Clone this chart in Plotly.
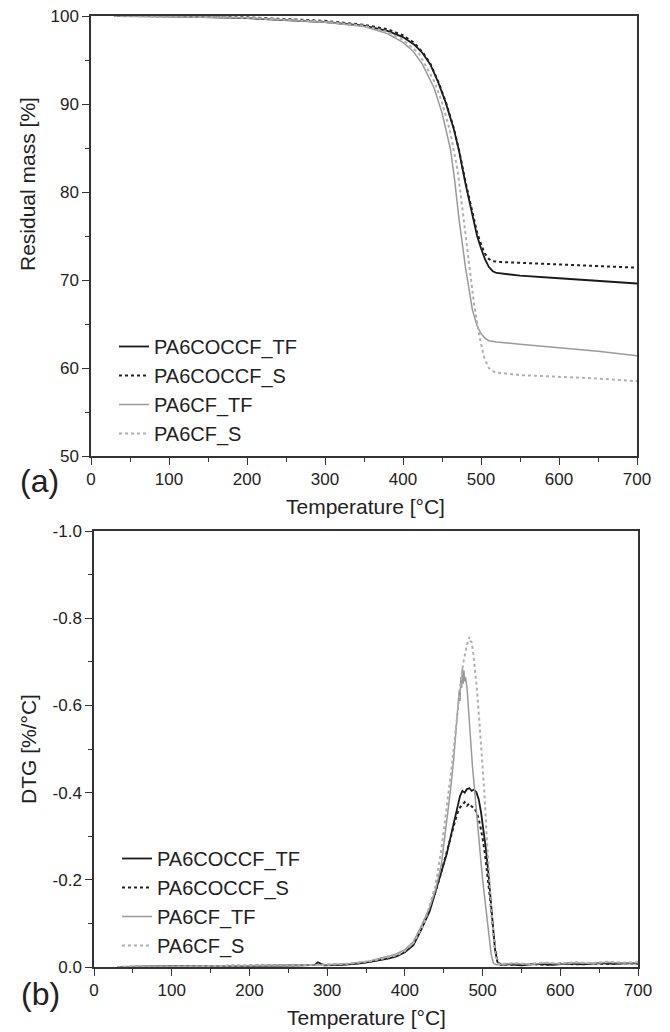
import plotly.graph_objects as go

# --- TGA (residual mass) ---
T_COCCF_TF = [30, 100, 200, 300, 350, 380, 400, 415, 425, 435, 445, 455, 465, 472, 480, 489, 495, 500, 505, 510, 515, 520, 530, 550, 600, 650, 700]
M_COCCF_TF = [100.0, 99.95, 99.75, 99.3, 98.9, 98.3, 97.6, 96.7, 95.8, 94.5, 92.5, 90.1, 87.2, 84.6, 81.0, 77.3, 75.0, 73.6, 72.4, 71.5, 71.0, 70.8, 70.7, 70.5, 70.2, 69.9, 69.6]

T_COCCF_S = [30, 100, 200, 300, 350, 380, 400, 415, 425, 435, 445, 455, 465, 472, 480, 489, 495, 500, 505, 510, 515, 525, 550, 600, 650, 700]
M_COCCF_S = [100.0, 99.98, 99.85, 99.45, 99.0, 98.5, 97.8, 96.9, 95.9, 94.6, 92.6, 90.2, 87.3, 84.7, 81.2, 77.5, 75.4, 74.1, 73.0, 72.4, 72.15, 72.05, 71.95, 71.8, 71.6, 71.4]

T_CF_TF = [30, 100, 200, 300, 350, 380, 400, 413, 425, 440, 450, 461, 466, 472, 480, 489, 495, 500, 505, 510, 520, 550, 600, 650, 700]
M_CF_TF = [100.0, 99.95, 99.8, 99.3, 98.8, 98.0, 97.0, 96.0, 94.5, 91.8, 89.0, 84.8, 81.5, 76.8, 71.5, 66.6, 64.8, 63.9, 63.4, 63.1, 62.95, 62.7, 62.3, 61.9, 61.4]

T_CF_S = [30, 100, 200, 300, 350, 380, 400, 420, 440, 450, 460, 470, 477, 484, 491, 498, 504, 510, 518, 550, 600, 650, 700]
M_CF_S = [100.0, 99.97, 99.8, 99.35, 98.9, 98.2, 97.3, 95.8, 92.6, 90.2, 87.0, 82.5, 77.5, 72.2, 67.3, 63.6, 61.2, 60.0, 59.5, 59.2, 59.0, 58.8, 58.5]

# --- DTG ---
TD_COCCF_TF = [30, 60, 100, 150, 200, 240, 270, 284, 288, 291, 296, 320, 340, 355, 368, 380, 390, 400, 411, 421, 432, 437, 445, 454, 461, 467, 471, 474, 477, 480, 483, 486, 489, 492, 495, 498, 501, 504, 507, 510, 513, 516, 519, 523, 535, 550, 570, 590, 610, 630, 650, 670, 690, 700]
D_COCCF_TF = [0.0, -0.001, -0.002, -0.002, -0.002, -0.003, -0.004, -0.005, -0.011, -0.008, -0.004, -0.005, -0.008, -0.012, -0.016, -0.02, -0.025, -0.034, -0.05, -0.085, -0.128, -0.158, -0.205, -0.26, -0.315, -0.365, -0.392, -0.404, -0.4, -0.408, -0.41, -0.404, -0.407, -0.401, -0.385, -0.355, -0.32, -0.275, -0.225, -0.165, -0.1, -0.04, -0.012, -0.005, -0.006, -0.004, -0.007, -0.005, -0.008, -0.006, -0.009, -0.007, -0.009, -0.008]

TD_COCCF_S = [30, 80, 130, 180, 230, 270, 300, 330, 355, 368, 380, 390, 400, 411, 421, 432, 440, 448, 455, 462, 467, 471, 474, 477, 480, 483, 486, 489, 492, 495, 498, 501, 504, 507, 510, 513, 516, 519, 523, 540, 560, 580, 600, 620, 640, 660, 680, 700]
D_COCCF_S = [0.0, -0.001, -0.002, -0.002, -0.003, -0.004, -0.005, -0.007, -0.012, -0.017, -0.021, -0.027, -0.037, -0.055, -0.09, -0.135, -0.175, -0.225, -0.27, -0.318, -0.35, -0.366, -0.372, -0.378, -0.37, -0.375, -0.368, -0.366, -0.355, -0.34, -0.315, -0.285, -0.245, -0.2, -0.15, -0.095, -0.045, -0.015, -0.006, -0.005, -0.007, -0.005, -0.008, -0.006, -0.008, -0.007, -0.009, -0.008]

TD_CF_TF = [30, 80, 130, 180, 230, 270, 300, 330, 355, 368, 380, 390, 400, 411, 421, 432, 440, 447, 454, 459, 463, 466, 468, 470, 471, 472, 473, 474, 475, 476, 477, 478, 480, 483, 487, 490, 493, 496, 499, 502, 505, 508, 511, 514, 518, 540, 560, 580, 600, 620, 640, 660, 680, 700]
D_CF_TF = [0.0, -0.002, -0.002, -0.003, -0.003, -0.004, -0.005, -0.008, -0.014, -0.02, -0.025, -0.031, -0.04, -0.058, -0.093, -0.137, -0.18, -0.235, -0.33, -0.41, -0.48, -0.54, -0.59, -0.635, -0.61, -0.665, -0.64, -0.685, -0.65, -0.68, -0.655, -0.665, -0.64, -0.56, -0.46, -0.4, -0.335, -0.275, -0.22, -0.17, -0.12, -0.07, -0.03, -0.008, -0.005, -0.008, -0.006, -0.009, -0.007, -0.01, -0.008, -0.011, -0.009, -0.01]

TD_CF_S = [30, 80, 130, 180, 230, 270, 300, 330, 355, 368, 380, 390, 400, 411, 425, 439, 447, 454, 460, 464.5, 468, 472, 475, 478, 480, 482, 483, 484, 486, 488, 490, 492.5, 496, 499, 502, 505, 508, 511, 514, 517, 521, 540, 560, 580, 600, 620, 640, 660, 680, 700]
D_CF_S = [0.0, -0.001, -0.002, -0.003, -0.003, -0.004, -0.005, -0.008, -0.013, -0.018, -0.022, -0.027, -0.037, -0.055, -0.1, -0.184, -0.27, -0.367, -0.455, -0.528, -0.59, -0.655, -0.696, -0.725, -0.74, -0.75, -0.757, -0.748, -0.745, -0.72, -0.69, -0.642, -0.56, -0.49, -0.41, -0.31, -0.22, -0.14, -0.074, -0.025, -0.007, -0.009, -0.007, -0.01, -0.008, -0.011, -0.009, -0.012, -0.01, -0.011]

NAMES = ["PA6COCCF_TF", "PA6COCCF_S", "PA6CF_TF", "PA6CF_S"]
DTG_TICKS = [-1.0, -0.8, -0.6, -0.4, -0.2, 0.0]
DTG_TICKTEXT = ["-1.0", "-0.8", "-0.6", "-0.4", "-0.2", "0.0"]

styles = [
    dict(color="#1a1a1a", width=1.8, dash="solid"),
    dict(color="#222222", width=2.0, dash="dot"),
    dict(color="#9a9a9a", width=1.5, dash="solid"),
    dict(color="#b0b0b0", width=2.0, dash="dot"),
]

W, H = 670, 1032
OFF = 8  # page body margin shifts the figure by this much


def px(x):
    return (x - OFF) / W


def py(y):
    return 1 - (y - OFF) / H


fig = go.Figure()

tga = [(T_COCCF_TF, M_COCCF_TF), (T_COCCF_S, M_COCCF_S), (T_CF_TF, M_CF_TF), (T_CF_S, M_CF_S)]
for name, (t, m), st in zip(NAMES, tga, styles):
    fig.add_trace(go.Scatter(x=t, y=m, mode="lines", name=name, line=st,
                             xaxis="x", yaxis="y", legend="legend"))

dtg = [(TD_COCCF_TF, D_COCCF_TF), (TD_COCCF_S, D_COCCF_S), (TD_CF_TF, D_CF_TF), (TD_CF_S, D_CF_S)]
for name, (t, d), st in zip(NAMES, dtg, styles):
    fig.add_trace(go.Scatter(x=t, y=d, mode="lines", name=name, line=st,
                             xaxis="x2", yaxis="y2", legend="legend2"))

axis_common = dict(showline=True, linecolor="#333333", linewidth=1.5, mirror=True,
                   ticks="outside", ticklen=7, tickwidth=1.3, tickcolor="#333333",
                   showgrid=False, zeroline=False, automargin=False,
                   ticklabeloverflow="allow",
                   tickfont=dict(family="Liberation Sans, Arial", size=17, color="#222222"))

fig.update_layout(
    template="none",
    width=W, height=H,
    margin=dict(l=0, r=0, t=0, b=0, pad=0),
    plot_bgcolor="white", paper_bgcolor="white",
    font=dict(family="Liberation Sans, Arial", color="#222222"),
    xaxis=dict(domain=[px(91), px(637)], range=[0, 700], dtick=100, tick0=0, anchor="y",
               minor=dict(dtick=50, tick0=0, ticks="outside", ticklen=4, tickcolor="#333333"),
               **axis_common),
    yaxis=dict(domain=[py(456), py(16)], range=[50, 100], dtick=10, tick0=50, anchor="x",
               minor=dict(dtick=5, tick0=50, ticks="outside", ticklen=4, tickcolor="#333333"),
               **axis_common),
    xaxis2=dict(domain=[px(94), px(638)], range=[0, 700], dtick=100, tick0=0, anchor="y2",
                minor=dict(dtick=50, tick0=0, ticks="outside", ticklen=4, tickcolor="#333333"),
                **axis_common),
    yaxis2=dict(domain=[py(967), py(531)], range=[0, -1.0], anchor="x2",
                tickmode="array", tickvals=DTG_TICKS, ticktext=DTG_TICKTEXT,
                minor=dict(tickmode="linear", dtick=0.1, tick0=0, ticks="outside", ticklen=4,
                           tickcolor="#333333"),
                **axis_common),
    legend=dict(x=px(114), y=py(327), xanchor="left", yanchor="top",
                bgcolor="rgba(0,0,0,0)", font=dict(size=20, color="#222222"),
                tracegroupgap=0),
    legend2=dict(x=px(117), y=py(839), xanchor="left", yanchor="top",
                 bgcolor="rgba(0,0,0,0)", font=dict(size=20, color="#222222"),
                 tracegroupgap=0),
)

title_font = dict(family="Liberation Sans, Arial", size=21, color="#222222")
big_font = dict(family="Liberation Sans, Arial", size=32, color="#222222")
ann = [
    dict(text="Residual mass [%]", x=px(28), y=py(184), textangle=-90, font=title_font),
    dict(text="Temperature [°C]", x=px(365), y=py(507), font=title_font),
    dict(text="(a)", x=px(39), y=py(481), font=big_font),
    dict(text="DTG [%/°C]", x=px(28), y=py(749), textangle=-90, font=title_font),
    dict(text="Temperature [°C]", x=px(366), y=py(1017), font=title_font),
    dict(text="(b)", x=px(40), y=py(994), font=big_font),
]
for a in ann:
    fig.add_annotation(xref="paper", yref="paper", showarrow=False,
                       xanchor="center", yanchor="middle", **a)

fig.write_html("out.html")
